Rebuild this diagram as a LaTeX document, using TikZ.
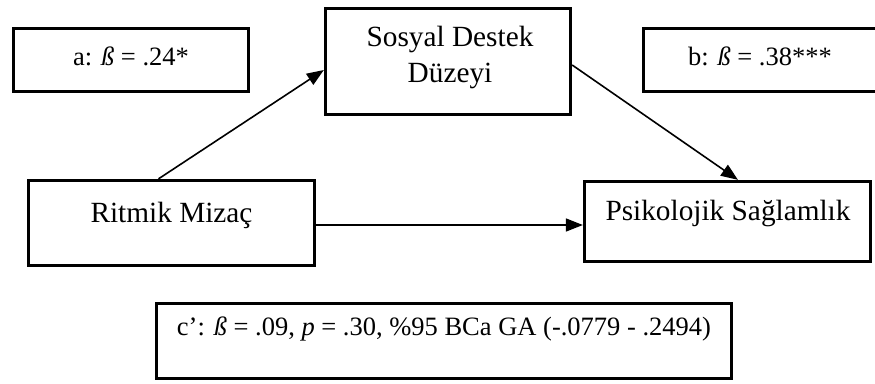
\documentclass[tikz,border=0pt]{standalone}
\usepackage{fontspec}
\setmainfont{Liberation Serif}
\usetikzlibrary{arrows.meta}
\tikzset{
  box/.style={draw=black, line width=3.3pt, fill=none, inner sep=0pt, rectangle},
  lbl/.style={anchor=base, inner sep=0pt, font=\fontsize{29.3}{36}\selectfont},
  stat/.style={anchor=base, inner sep=0pt, font=\fontsize{26.5}{32}\selectfont},
  conn/.style={draw=black, line width=1.6pt, -{Triangle[length=17pt,width=13pt]}}
}
\begin{document}
\begin{tikzpicture}[x=1pt,y=-1pt]
\useasboundingbox (0,0) rectangle (875,383);
\clip (0,0) rectangle (875,383);
\fill[white] (0,0) rectangle (875,383);
% boxes
\node[box, minimum width=235pt, minimum height=63pt] (a) at (131,60) {};
\node[box, minimum width=245pt, minimum height=106pt] (sd) at (448,61.5) {};
\node[box, minimum width=237pt, minimum height=63pt] (b) at (762,60) {};
\node[box, minimum width=286pt, minimum height=85pt] (rm) at (171.5,223) {};
\node[box, minimum width=286pt, minimum height=80pt] (ps) at (727.5,221.5) {};
\node[box, minimum width=575pt, minimum height=75pt] (c) at (444,341) {};
% texts
\node[stat] (at) at (131,65) {a: \textit{ß} = .24*};
\node[lbl] (sd1) at (450,46) {Sosyal Destek};
\node[lbl] (sd2) at (450,82) {Düzeyi};
\node[stat] (bt) at (760,65) {b: \textit{ß} = .38***};
\node[lbl] (rmt) at (171.5,222) {Ritmik Mizaç};
\node[lbl] (pst) at (728,220) {Psikolojik Sağlamlık};
\node[stat] (ct) at (444,335) {c’: \textit{ß} = .09, \textit{p} = .30, \%95 BCa GA (-.0779 - .2494)};
% connectors
\draw[conn] ([xshift=-13pt]rm.north) -- ([yshift=-8.5pt]sd.west);
\draw[conn] ([yshift=-3.5pt]sd.east) -- ([xshift=10.5pt]ps.north);
\draw[conn] ([yshift=-2pt]rm.east) -- ([yshift=-2pt]rm.east -| ps.west);
\end{tikzpicture}
\end{document}
